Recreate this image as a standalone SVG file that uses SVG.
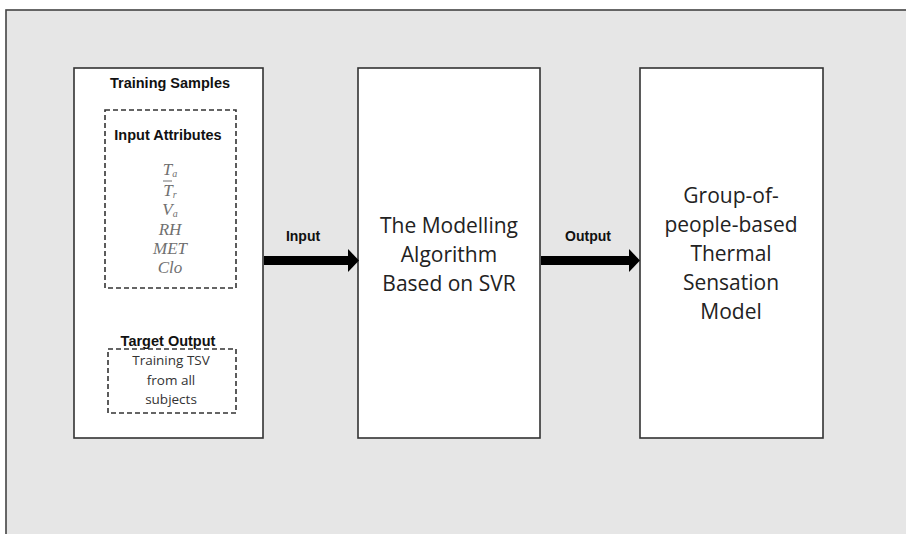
<svg xmlns="http://www.w3.org/2000/svg" width="906" height="534" viewBox="0 0 906 534">
<style>
.box{fill:#fff;stroke:#333;stroke-width:1.6}
.dash{fill:none;stroke:#333;stroke-width:1.6;stroke-dasharray:5,3}
.hb{font-family:"Liberation Sans",Arial,sans-serif;font-weight:bold;fill:#111;text-anchor:middle}
.big{font-family:"Open Sans","Liberation Sans",sans-serif;font-size:21px;fill:#222;text-anchor:middle}
.sm{font-family:"Open Sans","Liberation Sans",sans-serif;font-size:13.5px;fill:#333;text-anchor:middle}
.m{font-family:"Liberation Serif","DejaVu Serif",serif;font-style:italic;font-size:17px;fill:#707070;text-anchor:middle}
.sub{font-size:10px}
</style>
<rect x="0" y="0" width="906" height="534" fill="#fff"/>
<rect x="6" y="10" width="910" height="540" fill="#e6e6e6" stroke="#444" stroke-width="1.6"/>
<g id="training-samples">
<rect class="box" x="74" y="68" width="189" height="370"/>
<text class="hb" x="170" y="88" font-size="14.5">Training Samples</text>
<g id="input-attributes">
<rect class="dash" x="105" y="110" width="131" height="178"/>
<text class="hb" x="168" y="140" font-size="14.5">Input Attributes</text>
<text class="m" x="170" y="175">T<tspan class="sub" dy="2">a</tspan></text>
<line x1="163" y1="181" x2="172" y2="181" stroke="#707070" stroke-width="1"/>
<text class="m" x="170" y="196">T<tspan class="sub" dy="2">r</tspan></text>
<text class="m" x="170" y="215">V<tspan class="sub" dy="2">a</tspan></text>
<text class="m" x="170" y="235">RH</text>
<text class="m" x="170" y="254">MET</text>
<text class="m" x="170" y="273">Clo</text>
</g>
<g id="target-output">
<rect class="dash" x="108" y="349" width="128" height="64"/>
<text class="hb" x="168" y="346" font-size="14.5">Target Output</text>
<text class="sm" x="171" y="365">Training TSV</text>
<text class="sm" x="171" y="385">from all</text>
<text class="sm" x="171" y="404">subjects</text>
</g>
</g>
<g id="modelling-algorithm">
<rect class="box" x="358" y="68" width="182" height="370"/>
<text class="big" x="449" y="233">The Modelling</text>
<text class="big" x="449" y="262">Algorithm</text>
<text class="big" x="449" y="291">Based on SVR</text>
</g>
<g id="thermal-model">
<rect class="box" x="640" y="68" width="183" height="370"/>
<text class="big" x="731" y="203">Group-of-</text>
<text class="big" x="731" y="232">people-based</text>
<text class="big" x="731" y="261">Thermal</text>
<text class="big" x="731" y="290">Sensation</text>
<text class="big" x="731" y="319">Model</text>
</g>
<g id="connectors">
<rect x="264" y="256" width="86" height="9" fill="#000"/>
<polygon points="348,249 359,260.5 348,272" fill="#000"/>
<text class="hb" x="303" y="241" font-size="14">Input</text>
<rect x="541" y="256" width="90" height="9" fill="#000"/>
<polygon points="629,249 640,260.5 629,272" fill="#000"/>
<text class="hb" x="588" y="241" font-size="14">Output</text>
</g>
</svg>
